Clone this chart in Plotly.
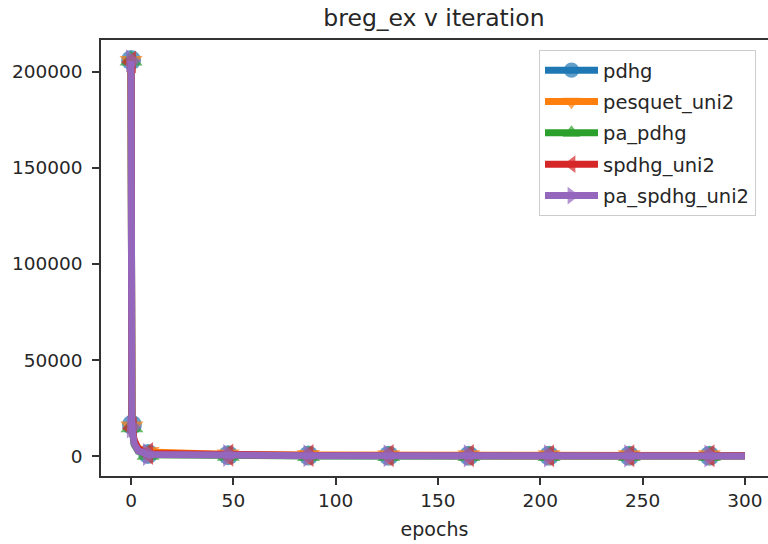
import plotly.graph_objects as go

# ---- data ----
epochs = [0, 0.4, 1.5, 3.5, 8.3, 47.5, 86.7, 125.9, 165.1, 204.3, 243.5, 282.7, 300]
marked = [1, 1, 0, 0, 1, 1, 1, 1, 1, 1, 1, 1, 0]

pdhg = [206000, 16300, 7000, 3000, 1200, 500, 350, 300, 260, 230, 210, 200, 195]
pesquet_uni2 = [205500, 15500, 8000, 4200, 2200, 900, 650, 550, 500, 470, 450, 440, 430]
pa_pdhg = [205800, 15000, 6000, 2500, 800, 200, 120, 100, 90, 80, 75, 70, 70]
spdhg_uni2 = [205000, 14500, 8500, 3800, 1400, 550, 400, 330, 290, 260, 240, 230, 225]
pa_spdhg_uni2 = [205600, 15200, 6500, 2800, 900, 350, 250, 210, 190, 170, 160, 150, 150]

series_names = ["pdhg", "pesquet_uni2", "pa_pdhg", "spdhg_uni2", "pa_spdhg_uni2"]
series_values = [pdhg, pesquet_uni2, pa_pdhg, spdhg_uni2, pa_spdhg_uni2]
colors = ["#1f77b4", "#ff7f0e", "#2ca02c", "#d62728", "#9467bd"]
symbols = ["circle", "triangle-down", "triangle-up", "triangle-left", "triangle-right"]

x_ticks = [0, 50, 100, 150, 200, 250, 300]
y_ticks = [0, 50000, 100000, 150000, 200000]

FONT = "DejaVu Sans"
MS = 20

fig = go.Figure()
for name, vals, col, sym in zip(series_names, series_values, colors, symbols):
    fig.add_trace(go.Scatter(
        x=epochs, y=vals, name=name, mode="lines+markers",
        legendgroup=name,
        line=dict(color=col, width=7),
        marker=dict(symbol=sym, color=col, size=[MS if m else 0 for m in marked],
                    line=dict(width=0)),
    ))

W, H = 768, 544
L, R, T, B = 101, 0, 40, 67.5

fig.update_layout(
    width=W, height=H,
    margin=dict(l=L, r=R, t=T, b=B, pad=0, autoexpand=False),
    paper_bgcolor="white", plot_bgcolor="white",
    font=dict(family=FONT, size=18.5, color="#262626"),
    title=dict(text="breg_ex v iteration", font=dict(size=23.5, color="#262626"),
               x=434 / W, xref="container", xanchor="center",
               y=1 - 18 / H, yref="container", yanchor="middle", automargin=False),
    showlegend=True,
    legend=dict(x=(539 - L) / (W - L - R), y=(H - B - 50) / (H - T - B),
                xanchor="left", yanchor="top",
                bgcolor="rgba(255,255,255,0.8)", bordercolor="#cccccc", borderwidth=1,
                font=dict(size=19.5, color="#262626"),
                traceorder="grouped", tracegroupgap=3,
                itemwidth=53),
    xaxis=dict(range=[-14.7, 311.3], tickvals=x_ticks, ticktext=[str(v) for v in x_ticks],
               showgrid=False, zeroline=False, showline=True, mirror=True,
               linecolor="#333333", linewidth=1.5, automargin=False,
               ticks="outside", ticklen=7, tickwidth=1.5, tickcolor="#333333",
               title=dict(text="epochs", font=dict(size=19, color="#262626"), standoff=13)),
    yaxis=dict(range=[-10290, 216460], tickvals=y_ticks, ticktext=[str(v) for v in y_ticks],
               showgrid=False, zeroline=False, showline=True, mirror=False,
               linecolor="#333333", linewidth=1.5, automargin=False,
               ticks="outside", ticklen=7, tickwidth=1.5, tickcolor="#333333",
               ticklabelstandoff=6),
)

fig.write_html(
    "out.html",
    config={"displayModeBar": False},
    post_script="document.body.style.margin='0';document.body.style.overflow='hidden';"
                "document.documentElement.style.overflow='hidden';",
)
